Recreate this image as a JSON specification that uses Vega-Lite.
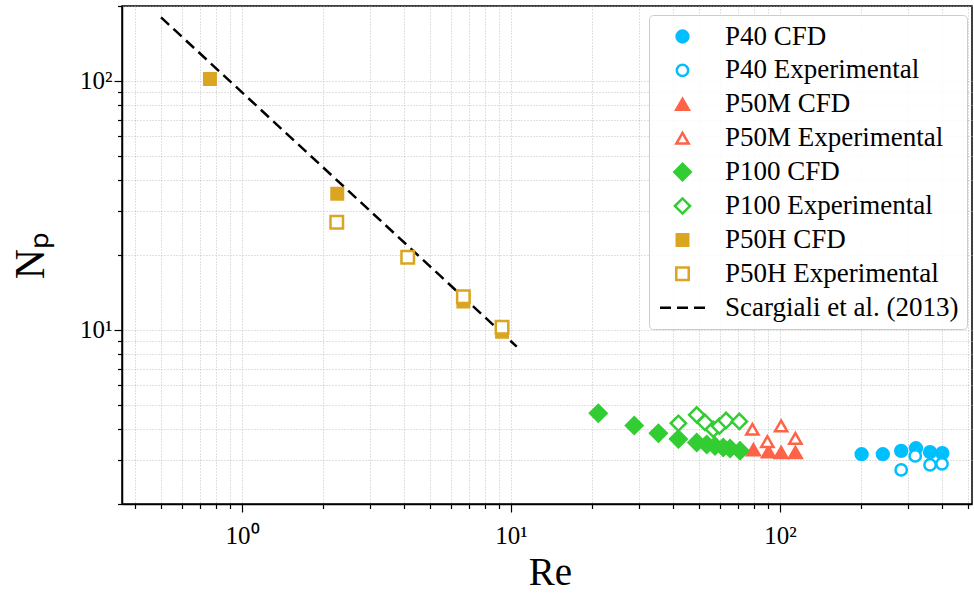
{
  "$schema": "https://vega.github.io/schema/vega-lite/v6.json",
  "width": 850,
  "height": 498,
  "autosize": {"type": "none"},
  "padding": {"left": 122, "top": 6, "right": 2, "bottom": 89},
  "background": "white",
  "config": {
    "view": {"stroke": "black", "strokeWidth": 1.5},
    "font": "Liberation Serif",
    "axis": {
      "domainColor": "black",
      "domainWidth": 1.5,
      "tickColor": "black",
      "tickWidth": 1.2,
      "grid": true,
      "gridColor": "#b0b0b0",
      "gridDash": [1, 2],
      "gridWidth": 0.8,
      "labelFont": "Liberation Serif",
      "labelFontSize": 25,
      "labelColor": "black",
      "labelOverlap": false,
      "labelFlush": false,
      "titleFont": "Liberation Serif",
      "titleFontWeight": "normal",
      "titleColor": "black"
    },
    "legend": {
      "padding": 8,
      "fillColor": "rgba(255,255,255,0.85)",
      "strokeColor": "#cccccc",
      "strokeWidth": 1,
      "cornerRadius": 4,
      "labelFont": "Liberation Serif",
      "labelFontSize": 27,
      "labelColor": "black",
      "labelOffset": 29,
      "labelLimit": 0,
      "rowPadding": 5.9,
      "symbolOffset": 12,
      "symbolStrokeWidth": 2.5,
      "symbolOpacity": 1
    }
  },
  "layer": [
    {
      "data": {"values": [
        {"Re": 0.5, "Np": 180},
        {"Re": 10.5, "Np": 8.57}
      ]},
      "mark": {"type": "line", "stroke": "black", "strokeWidth": 2.5, "strokeDash": [11, 6]},
      "encoding": {
        "x": {
          "field": "Re", "type": "quantitative",
          "scale": {"type": "log", "domain": [0.358, 517], "nice": false},
          "axis": {
            "values": [0.4, 0.5, 0.6, 0.7, 0.8, 0.9, 1, 2, 3, 4, 5, 6, 7, 8, 9, 10, 20, 30, 40, 50, 60, 70, 80, 90, 100, 200, 300, 400, 500],
            "labelExpr": "datum.value == 1 ? '10⁰' : datum.value == 10 ? '10¹' : datum.value == 100 ? '10²' : ''",
            "tickSize": {"condition": {"test": "datum.value == 1 || datum.value == 10 || datum.value == 100", "value": 8}, "value": 4.5},
            "labelBaseline": "alphabetic",
            "labelPadding": 31,
            "title": "Re",
            "titleFontSize": 39,
            "titleBaseline": "alphabetic",
            "titleX": 428,
            "titleY": 80
          }
        },
        "y": {
          "field": "Np", "type": "quantitative",
          "scale": {"type": "log", "domain": [2, 200], "nice": false},
          "axis": {
            "values": [2, 3, 4, 5, 6, 7, 8, 9, 10, 20, 30, 40, 50, 60, 70, 80, 90, 100, 200],
            "labelExpr": "datum.value == 10 ? '10¹' : datum.value == 100 ? '10²' : ''",
            "tickSize": {"condition": {"test": "datum.value == 10 || datum.value == 100", "value": 8}, "value": 4.5},
            "labelPadding": 2,
            "labelBaseline": "middle",
            "title": "Nₚ",
            "titleFontSize": 42,
            "titleAngle": 270,
            "titleBaseline": "alphabetic",
            "titleAlign": "center",
            "titleX": -79,
            "titleY": 249
          }
        }
      }
    },
    {
      "data": {"values": [
        {"series": "P40 CFD", "Re": 201, "Np": 3.17},
        {"series": "P40 CFD", "Re": 241, "Np": 3.17},
        {"series": "P40 CFD", "Re": 282, "Np": 3.27},
        {"series": "P40 CFD", "Re": 320, "Np": 3.35},
        {"series": "P40 CFD", "Re": 361, "Np": 3.23},
        {"series": "P40 CFD", "Re": 401, "Np": 3.20},
        {"series": "P40 Experimental", "Re": 282, "Np": 2.74},
        {"series": "P40 Experimental", "Re": 318, "Np": 3.12},
        {"series": "P40 Experimental", "Re": 361, "Np": 2.87},
        {"series": "P40 Experimental", "Re": 400, "Np": 2.90},
        {"series": "P50M CFD", "Re": 79.6, "Np": 3.30},
        {"series": "P50M CFD", "Re": 90.5, "Np": 3.24},
        {"series": "P50M CFD", "Re": 100.9, "Np": 3.22},
        {"series": "P50M CFD", "Re": 114, "Np": 3.22},
        {"series": "P50M Experimental", "Re": 78.9, "Np": 3.99},
        {"series": "P50M Experimental", "Re": 89.7, "Np": 3.56},
        {"series": "P50M Experimental", "Re": 100.9, "Np": 4.12},
        {"series": "P50M Experimental", "Re": 114, "Np": 3.67},
        {"series": "P100 CFD", "Re": 21.1, "Np": 4.63},
        {"series": "P100 CFD", "Re": 28.7, "Np": 4.13},
        {"series": "P100 CFD", "Re": 35.3, "Np": 3.85},
        {"series": "P100 CFD", "Re": 41.9, "Np": 3.65},
        {"series": "P100 CFD", "Re": 49.0, "Np": 3.53},
        {"series": "P100 CFD", "Re": 53.4, "Np": 3.47},
        {"series": "P100 CFD", "Re": 57.3, "Np": 3.42},
        {"series": "P100 CFD", "Re": 61.5, "Np": 3.37},
        {"series": "P100 CFD", "Re": 65.2, "Np": 3.34},
        {"series": "P100 CFD", "Re": 71.0, "Np": 3.27},
        {"series": "P100 Experimental", "Re": 41.9, "Np": 4.22},
        {"series": "P100 Experimental", "Re": 49.0, "Np": 4.56},
        {"series": "P100 Experimental", "Re": 52.6, "Np": 4.25},
        {"series": "P100 Experimental", "Re": 56.5, "Np": 3.99},
        {"series": "P100 Experimental", "Re": 59.5, "Np": 4.11},
        {"series": "P100 Experimental", "Re": 63.0, "Np": 4.33},
        {"series": "P100 Experimental", "Re": 70.6, "Np": 4.29},
        {"series": "P50H CFD", "Re": 0.76, "Np": 101.9},
        {"series": "P50H CFD", "Re": 2.26, "Np": 35.2},
        {"series": "P50H CFD", "Re": 6.65, "Np": 13.0},
        {"series": "P50H CFD", "Re": 9.26, "Np": 9.84},
        {"series": "P50H Experimental", "Re": 2.25, "Np": 27.1},
        {"series": "P50H Experimental", "Re": 4.13, "Np": 19.6},
        {"series": "P50H Experimental", "Re": 6.65, "Np": 13.6},
        {"series": "P50H Experimental", "Re": 9.26, "Np": 10.25}
      ]},
      "mark": {"type": "point", "strokeWidth": 2.5, "opacity": 1},
      "encoding": {
        "x": {"field": "Re", "type": "quantitative"},
        "y": {"field": "Np", "type": "quantitative"},
        "shape": {
          "field": "series", "type": "nominal",
          "scale": {
            "domain": ["P40 CFD", "P40 Experimental", "P50M CFD", "P50M Experimental", "P100 CFD", "P100 Experimental", "P50H CFD", "P50H Experimental", "Scargiali et al. (2013)"],
            "range": ["circle", "circle", "triangle-up", "triangle-up", "diamond", "diamond", "square", "square", "M-2,0L-1.02,0M-0.49,0L0.49,0M1.02,0L2,0"]
          },
          "legend": {"orient": "none", "legendX": 527, "legendY": 9, "title": null}
        },
        "fill": {
          "field": "series", "type": "nominal",
          "scale": {
            "domain": ["P40 CFD", "P40 Experimental", "P50M CFD", "P50M Experimental", "P100 CFD", "P100 Experimental", "P50H CFD", "P50H Experimental", "Scargiali et al. (2013)"],
            "range": ["#00BFFF", "#ffffff", "#FF6347", "#ffffff", "#32CD32", "#ffffff", "#DAA520", "#ffffff", "transparent"]
          },
          "legend": {"orient": "none", "legendX": 527, "legendY": 9, "title": null}
        },
        "stroke": {
          "field": "series", "type": "nominal",
          "scale": {
            "domain": ["P40 CFD", "P40 Experimental", "P50M CFD", "P50M Experimental", "P100 CFD", "P100 Experimental", "P50H CFD", "P50H Experimental", "Scargiali et al. (2013)"],
            "range": ["#00BFFF", "#00BFFF", "#FF6347", "#FF6347", "#32CD32", "#32CD32", "#DAA520", "#DAA520", "#000000"]
          },
          "legend": {"orient": "none", "legendX": 527, "legendY": 9, "title": null}
        },
        "size": {
          "field": "series", "type": "nominal",
          "scale": {
            "type": "ordinal",
            "domain": ["P40 CFD", "P40 Experimental", "P50M CFD", "P50M Experimental", "P100 CFD", "P100 Experimental", "P50H CFD", "P50H Experimental", "Scargiali et al. (2013)"],
            "range": [140, 128, 160, 150, 272, 231, 132, 156, 506]
          },
          "legend": {"orient": "none", "legendX": 527, "legendY": 9, "title": null}
        }
      }
    }
  ]
}
